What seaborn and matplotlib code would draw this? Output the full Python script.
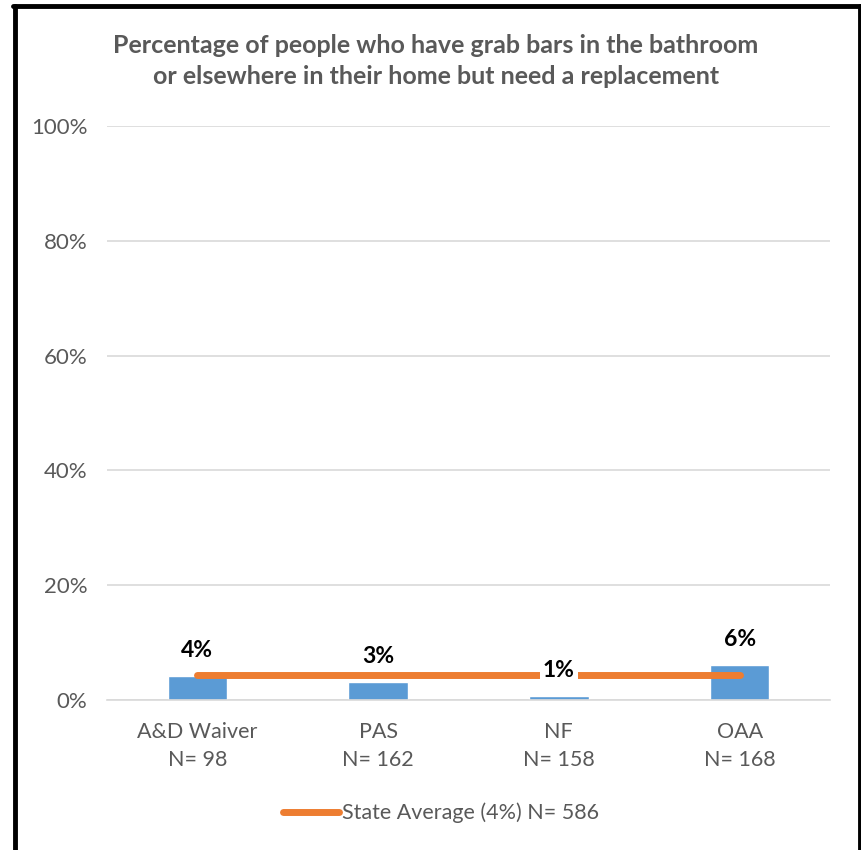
import numpy as np
import pandas as pd
import seaborn as sns
from matplotlib import pyplot as plt
from matplotlib.lines import Line2D

programs = ["A&D Waiver", "PAS", "NF", "OAA"]
sample_sizes = [98, 162, 158, 168]
pct = [4.2, 3.1, 0.7, 6.1]
pct_labels = ["4%", "3%", "1%", "6%"]
state_avg = 4.3
state_label = "State Average (4%) N= 586"
title = ("Percentage of people who have grab bars in the bathroom\n"
         "or elsewhere in their home but need a replacement")


def main():
    df = pd.DataFrame({
        "label": [f"{p}\nN= {n}" for p, n in zip(programs, sample_sizes)],
        "value": pct,
    })

    sns.set_theme(style="white")
    plt.rcParams["font.family"] = ["Lato", "DejaVu Sans"]
    gray = "#595959"

    fig = plt.figure(figsize=(8.61, 8.5), dpi=100)
    ax = fig.add_axes([107 / 861, 150 / 850, (830 - 107) / 861, (700 - 126) / 850])

    sns.barplot(data=df, x="label", y="value", color="#5b9bd5", width=0.33,
                saturation=1, ax=ax, zorder=2)
    ax.plot([0, len(programs) - 1], [state_avg, state_avg], color="#ed7d31",
            lw=5, solid_capstyle="round", zorder=3)

    for i, (v, lab) in enumerate(zip(pct, pct_labels)):
        ax.annotate(lab, (i, v), xytext=(0, 18.5), textcoords="offset points",
                    ha="center", va="center", fontsize=16.5, fontweight="bold",
                    color="black", zorder=4,
                    bbox=dict(boxstyle="square,pad=0.12", fc="white", ec="none"))

    ax.set_ylim(0, 100)
    ax.set_xlim(-0.5, len(programs) - 0.5)
    ax.set_yticks(np.arange(0, 101, 20))
    ax.set_yticklabels([f"{t}%" for t in range(0, 101, 20)])
    ax.yaxis.grid(True, color="#d9d9d9", lw=1.2, zorder=0)
    ax.set_axisbelow(True)
    for s in ["left", "right", "top"]:
        ax.spines[s].set_visible(False)
    ax.spines["bottom"].set_color("#d9d9d9")
    ax.spines["bottom"].set_linewidth(1.2)
    ax.tick_params(axis="x", colors=gray, labelsize=15.5, length=0, pad=16)
    ax.tick_params(axis="y", colors=gray, labelsize=16, length=0, pad=14)
    for t in ax.get_xticklabels():
        t.set_linespacing(1.5)
    ax.set_xlabel("")
    ax.set_ylabel("")

    fig.text(436 / 861, 1 - 61 / 850, title, ha="center", va="center",
             fontsize=18, fontweight="bold", color=gray, linespacing=1.4)

    handle = Line2D([], [], color="#ed7d31", lw=5, solid_capstyle="round")
    fig.legend([handle], [state_label], loc="center", bbox_to_anchor=(441 / 861, 1 - 813 / 850),
               frameon=False, fontsize=15.5, labelcolor=gray, handlelength=2.6,
               handletextpad=0.1)

    for xs, ys in [([14.5 / 861] * 2, [0, 1 - 5.5 / 850]),
                   ([859.5 / 861] * 2, [0, 1 - 5.5 / 850]),
                   ([13 / 861, 861 / 861], [1 - 5.5 / 850] * 2)]:
        fig.add_artist(Line2D(xs, ys, color="black", lw=3.5, transform=fig.transFigure))

    fig.savefig("out.png", dpi=100, facecolor="white")


if __name__ == "__main__":
    main()
